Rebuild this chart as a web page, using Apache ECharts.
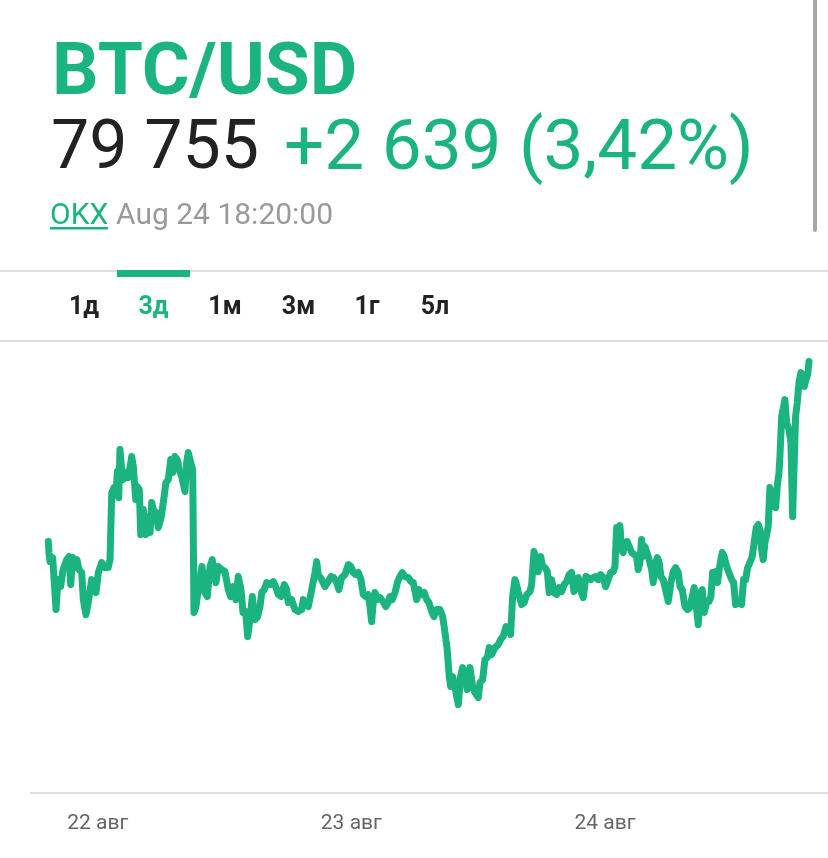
<!DOCTYPE html>
<html>
<head>
<meta charset="utf-8">
<script src="https://cdn.jsdelivr.net/npm/echarts@6/dist/echarts.min.js"></script>
<style>
html,body{margin:0;padding:0;background:#fff;}
#chart{width:828px;height:858px;}
</style>
</head>
<body>
<div id="chart"></div>
<script>
// Hours since the start of the 3-day window
var hours = [0.03,0.09,0.19,0.44,0.76,0.95,1.20,1.42,1.77,1.99,2.15,2.34,2.55,2.74,2.93,3.19,3.34,3.59,3.81,3.97,4.13,4.29,4.54,4.76,5.08,5.39,5.70,5.87,6.03,6.24,6.43,6.56,6.69,6.81,6.97,7.12,7.38,7.60,7.92,8.07,8.30,8.45,8.64,8.77,9.02,9.27,9.49,9.65,9.81,9.96,10.22,10.43,10.66,10.91,11.16,11.38,11.61,11.80,12.01,12.23,12.42,12.65,12.96,13.12,13.27,13.50,13.69,13.81,14.00,14.31,14.57,14.85,15.07,15.33,15.54,15.70,15.89,16.11,16.43,16.74,17.06,17.28,17.53,17.78,18.00,
18.26,18.45,18.70,18.89,19.11,19.33,19.58,19.84,20.06,20.22,20.46,20.69,21.00,21.31,21.54,21.79,22.04,22.35,22.58,22.73,23.05,23.37,23.68,24.00,24.15,24.38,24.63,24.95,25.26,25.42,25.57,25.89,26.20,26.46,26.77,27.03,27.31,27.53,27.78,28.10,28.41,28.66,28.88,29.11,29.36,29.61,29.83,30.06,30.30,30.46,30.62,30.77,30.93,31.19,31.41,31.72,31.95,32.19,32.35,32.57,32.83,33.08,33.30,33.52,33.77,34.08,34.34,34.56,34.88,35.10,35.35,35.60,35.83,36.04,36.30,36.52,36.77,37.08,37.34,37.56,37.77,37.96,38.10,38.29,38.50,38.67,38.82,39.04,39.23,39.45,39.67,39.92,40.18,40.39,40.71,40.87,41.12,41.34,41.56,41.75,41.97,42.29,42.60,42.83,43.07,43.33,43.55,43.77,43.96,44.18,44.40,44.59,44.81,45.06,45.29,45.60,45.76,45.98,46.16,46.38,46.61,46.80,47.02,47.24,47.42,47.65,47.87,48.12,48.37,48.60,48.84,49.07,49.31,49.54,49.76,49.95,50.17,50.39,50.64,50.89,51.11,51.34,51.59,51.84,52.06,52.29,52.53,52.76,53.00,53.23,53.48,53.64,53.80,53.95,54.11,54.27,54.42,54.58,54.80,54.96,55.22,55.46,55.69,55.84,56.00,56.16,56.31,56.48,56.64,56.79,56.95,57.11,57.26,57.42,57.64,57.83,57.99,58.21,58.43,58.68,58.94,59.15,59.38,59.63,59.79,60.01,60.26,60.52,60.73,60.95,61.14,61.30,61.52,61.71,61.90,62.09,62.31,62.53,62.72,62.88,63.03,63.19,63.35,63.54,63.79,63.98,64.21,64.42,64.68,64.87,65.06,65.30,65.62,65.81,66.00,66.19,66.41,66.63,66.82,67.01,67.20,67.36,67.52,67.67,67.83,67.99,68.14,68.30,68.46,68.61,68.84,69.03,69.15,69.25,69.41,69.56,69.72,69.88,70.10,70.29,70.45,70.61,70.73,70.89,71.05,71.24,71.40,71.55,71.71,71.87,72.00];

// BTC/USD price readings
var prices = [77505,77368,77255,77305,76655,77030,76943,77155,77280,77318,76968,77305,77180,77280,77155,77118,76780,76593,76743,76755,77030,76943,76868,77118,77243,77180,77180,77280,78118,78180,78093,78380,78055,78655,78405,78280,78368,78305,78568,78443,78030,78193,78155,77593,77905,77593,77818,77618,77993,77905,77868,77680,77780,77993,78243,78280,78530,78368,78568,78530,78405,78318,78130,78493,78618,78493,78405,76618,76693,76993,77193,76868,76818,77193,77280,77118,76993,77193,77155,77130,76905,76818,76943,76780,77068,
76905,76618,76630,76318,76530,76818,76530,76568,76693,76868,76905,76993,76968,77005,76943,76843,76818,76968,76905,76743,76780,76655,76630,76655,76780,76718,76693,76905,77118,77255,77093,77030,76943,76993,77068,77055,76993,76905,77055,77093,77218,77193,77118,77093,77118,77030,76843,76818,76843,76693,76505,76743,76868,76780,76805,76755,76693,76743,76818,76780,76868,77005,77068,77118,77068,77055,77005,76993,76780,76905,76843,76868,76780,76743,76630,76568,76655,76655,76568,76368,76155,75818,75693,75818,75693,75568,75468,75818,75930,75818,75655,75930,75693,75618,75555,75743,75780,76030,76055,76180,76093,76180,76218,76280,76318,76443,76405,76343,76818,77030,76930,76818,76718,76743,76843,76880,76968,77380,77280,77130,77318,77193,77180,77130,76868,77030,76868,76843,76930,76880,76968,77005,77093,77118,76880,77030,77055,76905,76805,77068,77055,77030,77055,77068,77030,77093,77055,76943,77030,77118,77130,77193,77680,77555,77705,77405,77368,77493,77505,77505,77368,77343,77318,77155,77243,77530,77318,77443,77468,77318,77243,77155,76993,77193,77305,77243,77068,77030,76905,76755,76993,77130,77180,77118,76943,76905,76693,76655,76680,76818,76930,76743,76468,76868,76905,76618,76743,76755,76818,77118,77030,77130,76993,77193,77368,77318,77193,77118,77030,76993,76718,76743,76718,77030,77030,77180,77243,77318,77505,77680,77718,77655,77405,77280,77493,77593,77693,78180,78068,77943,77930,78243,78343,78568,79068,79055,79280,78993,78905,78743,77818,78530,79068,79243,79493,79618,79530,79443,79530,79593,79755];

// Axis day labels (hour positions within the window)
var dayTicks = [4.7, 28.7, 52.7];
var dayLabels = ['22 авг', '23 авг', '24 авг'];

// Header texts
var pairName = 'BTC/USD';
var lastPrice = '79 755';
var change = '+2 639 (3,42%)';
var source = 'OKX';
var stamp = 'Aug 24 18:20:00';
var tabs = ['1д', '3д', '1м', '3м', '1г', '5л'];
var activeTab = 1;

var GREEN = '#1bb481';
var seriesData = hours.map(function (h, i) { return [h, prices[i]]; });

var tabX = [84, 153.5, 225, 298.5, 367, 435];
var graphics = [
  {type:'rect', shape:{x:813, y:-6, width:4, height:238, r:2}, style:{fill:'#a8a8a8'}},
  {type:'text', x:52, y:76, style:{text:pairName, font:'bold 73px Roboto', fill:GREEN, align:'left', verticalAlign:'middle', textAlign:'left', textVerticalAlign:'middle'}},
  {type:'text', x:51, y:151, style:{text:lastPrice, font:'68px Roboto', fill:'#222222', align:'left', verticalAlign:'middle', textAlign:'left', textVerticalAlign:'middle'}},
  {type:'text', x:284, y:151, style:{text:change, font:'71px Roboto', fill:GREEN, align:'left', verticalAlign:'middle', textAlign:'left', textVerticalAlign:'middle'}},
  {type:'text', x:50, y:216, style:{text:source, font:'30px Roboto', fill:GREEN, align:'left', verticalAlign:'middle', textAlign:'left', textVerticalAlign:'middle'}},
  {type:'rect', shape:{x:50, y:227, width:58, height:2.5}, style:{fill:GREEN}},
  {type:'text', x:116, y:216, style:{text:stamp, font:'30px Roboto', fill:'#9a9a9a', align:'left', verticalAlign:'middle', textAlign:'left', textVerticalAlign:'middle'}},
  {type:'rect', shape:{x:0, y:270, width:828, height:2}, style:{fill:'#dedede'}},
  {type:'rect', shape:{x:117, y:270, width:73, height:7}, style:{fill:GREEN}},
  {type:'rect', shape:{x:0, y:340, width:828, height:2}, style:{fill:'#dedede'}},
  {type:'rect', shape:{x:30, y:792, width:798, height:2}, style:{fill:'#dedede'}}
];
tabs.forEach(function (t, i) {
  graphics.push({type:'text', x:tabX[i], y:308, style:{text:t, font:'bold 25px Roboto', fill: i === activeTab ? GREEN : '#222222', align:'center', verticalAlign:'middle', textAlign:'center', textVerticalAlign:'middle'}});
});

var chart = echarts.init(document.getElementById('chart'), null, {renderer:'canvas'});
chart.setOption({
  backgroundColor:'#ffffff',
  animation:false,
  graphic: graphics,
  grid:{left:48, right:19, top:350, height:368},
  xAxis:{
    type:'value', min:0, max:72,
    axisLine:{show:false}, axisTick:{show:false}, splitLine:{show:false},
    axisLabel:{
      customValues: dayTicks,
      margin: 95,
      color:'#666666',
      fontFamily:'Roboto',
      fontSize:21,
      formatter:function (v) {
        for (var i = 0; i < dayTicks.length; i++) {
          if (Math.abs(dayTicks[i] - v) < 0.01) return dayLabels[i];
        }
        return '';
      }
    }
  },
  yAxis:{
    type:'value', min:75300, max:79900,
    show:false, splitLine:{show:false}
  },
  series:[{
    type:'line',
    data: seriesData,
    showSymbol:false,
    lineStyle:{color:GREEN, width:7, cap:'round', join:'round'},
    itemStyle:{color:GREEN}
  }]
});
</script>
</body>
</html>
